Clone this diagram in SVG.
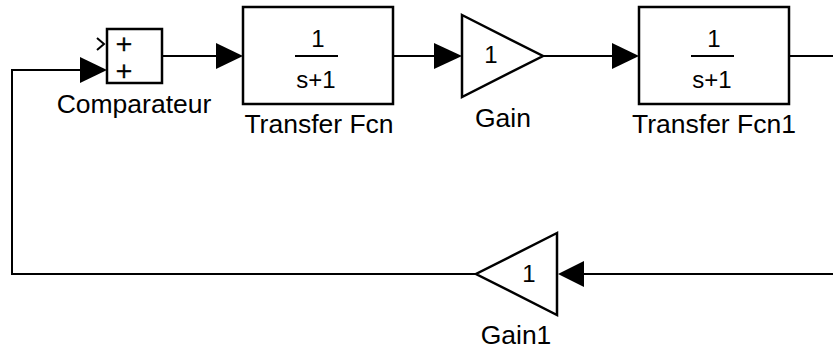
<svg xmlns="http://www.w3.org/2000/svg" width="833" height="349" viewBox="0 0 833 349">
<defs>
<style>
.blk{fill:#fff;stroke:#000;stroke-width:2.5}
.ln{fill:none;stroke:#000;stroke-width:2}
.lbl{font-family:"Liberation Sans",Arial,sans-serif;font-size:26.5px;fill:#000;text-anchor:middle}
.in{font-family:"Liberation Sans",Arial,sans-serif;font-size:24px;fill:#000;text-anchor:middle}
.pl{font-family:"DejaVu Sans",sans-serif;font-size:22px;fill:#000;stroke:#000;stroke-width:0.4;text-anchor:middle}
.ah{fill:#000;stroke:none}
</style>
</defs>
<rect width="833" height="349" fill="#fff"/>
<g id="connectors">
<polyline class="ln" points="162,56 218,56"/>
<polygon class="ah" points="216,43 243,56 216,69"/>
<polyline class="ln" points="393,56 435,56"/>
<polygon class="ah" points="434,43 462,56 434,69"/>
<polyline class="ln" points="543,56 614,56"/>
<polygon class="ah" points="612,43 639,56 612,69"/>
<polyline class="ln" points="789,56 833,56"/>
<polyline class="ln" points="833,274 583,274"/>
<polygon class="ah" points="584,261 558,274 584,287"/>
<polyline class="ln" points="476,274 12,274 12,70 82,70"/>
<polygon class="ah" points="80,57 107,70 80,83"/>
</g>
<g id="comparateur">
<rect class="blk" x="107" y="29" width="55" height="54"/>
<polyline class="ln" points="97,38 104,44 97,50" stroke-width="2.4"/>
<text class="pl" x="124" y="51">+</text>
<text class="pl" x="124" y="78">+</text>
<text class="lbl" x="134" y="113">Comparateur</text>
</g>
<g id="transfer-fcn">
<rect class="blk" x="243" y="7" width="150" height="97"/>
<text class="in" x="318" y="47">1</text>
<line class="ln" x1="295" y1="56" x2="338" y2="56"/>
<text class="in" x="316" y="88">s+1</text>
<text class="lbl" x="319" y="133">Transfer Fcn</text>
</g>
<g id="gain">
<polygon class="blk" points="462,15 543,56 462,97"/>
<text class="in" x="491" y="63">1</text>
<text class="lbl" x="503" y="127">Gain</text>
</g>
<g id="transfer-fcn1">
<rect class="blk" x="639" y="7" width="150" height="97"/>
<text class="in" x="714" y="47">1</text>
<line class="ln" x1="691" y1="56" x2="734" y2="56"/>
<text class="in" x="712" y="88">s+1</text>
<text class="lbl" x="714" y="133">Transfer Fcn1</text>
</g>
<g id="gain1">
<polygon class="blk" points="557,233 476,274 557,315"/>
<text class="in" x="529" y="282">1</text>
<text class="lbl" x="516" y="344">Gain1</text>
</g>
</svg>
